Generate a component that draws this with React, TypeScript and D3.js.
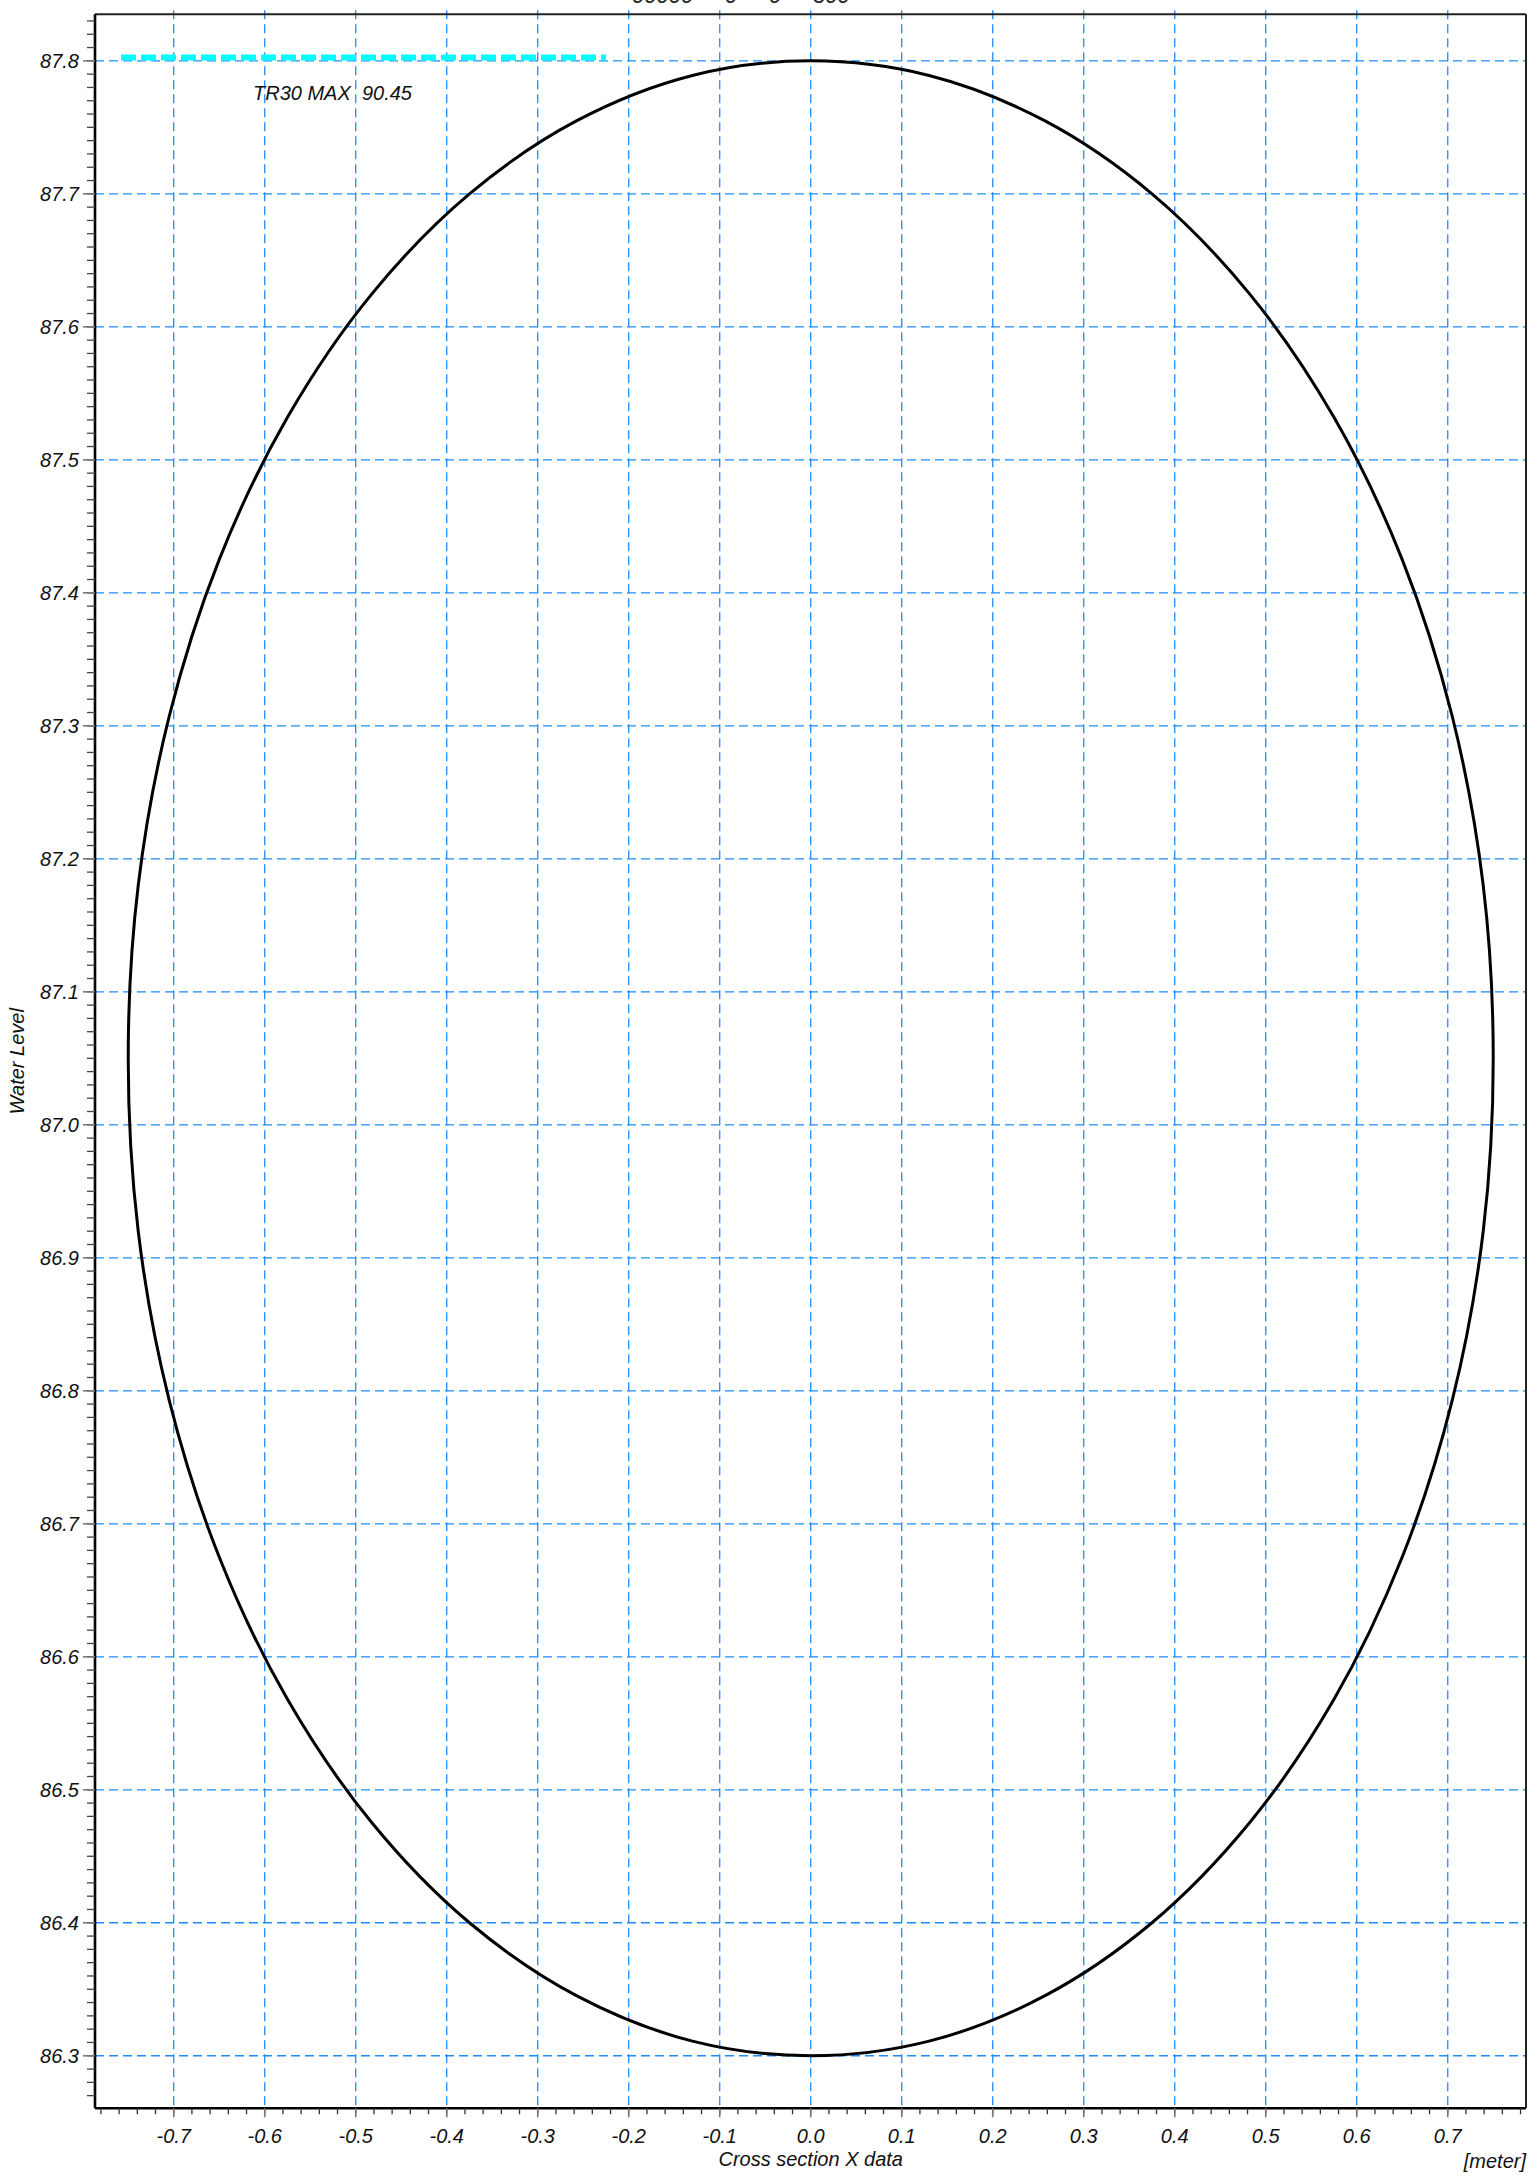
import React, { useEffect } from "react";
import * as d3 from "d3";

// pipe cross-section outline (x in meter, y = water level)
const pipeX = [
  0.75, 0.739, 0.705, 0.65, 0.575, 0.482, 0.375, 0.257, 0.13, 0.0,
  -0.13, -0.257, -0.375, -0.482, -0.575, -0.65, -0.705, -0.739, -0.75,
  -0.739, -0.705, -0.65, -0.575, -0.482, -0.375, -0.257, -0.13, 0.0,
  0.13, 0.257, 0.375, 0.482, 0.575, 0.65, 0.705, 0.739,
];
const pipeY = [
  87.05, 87.18, 87.307, 87.425, 87.532, 87.625, 87.7, 87.755, 87.789, 87.8,
  87.789, 87.755, 87.7, 87.625, 87.532, 87.425, 87.307, 87.18, 87.05,
  86.92, 86.793, 86.675, 86.568, 86.475, 86.4, 86.345, 86.311, 86.3,
  86.311, 86.345, 86.4, 86.475, 86.568, 86.675, 86.793, 86.92,
];

const xTickLabels = ["-0.7", "-0.6", "-0.5", "-0.4", "-0.3", "-0.2", "-0.1", "0.0", "0.1", "0.2", "0.3", "0.4", "0.5", "0.6", "0.7"];
const yTickLabels = ["86.3", "86.4", "86.5", "86.6", "86.7", "86.8", "86.9", "87.0", "87.1", "87.2", "87.3", "87.4", "87.5", "87.6", "87.7", "87.8"];

const legendName = "TR30 MAX  90.45";
const chartTitle = "00000  -  0  -  0  -  300";

const W = 1540;
const H = 2179;
const left = 95, right = 1526, top = 14.3, bottom = 2108.3;
const font = "'Liberation Sans', Arial, Helvetica, sans-serif";
const gridBlue = "#1e8cff";

const App = () => {
  useEffect(() => {
    document.body.style.margin = "0";
    document.body.style.overflow = "hidden";
  }, []);

  const x = d3.scaleLinear().domain([-0.7865, 0.786]).range([left, right]);
  const y = d3.scaleLinear().domain([86.2605, 87.835]).range([bottom, top]);

  const xMajor = xTickLabels.map(Number);
  const yMajor = yTickLabels.map(Number);
  const xMinor = d3.ticks(-0.7865, 0.786, 80);
  const yMinor = d3.ticks(86.2605, 87.835, 160);

  const pts: [number, number][] = pipeX.map((v, i) => [v, pipeY[i]]);
  const line = d3
    .line<[number, number]>()
    .x((d) => x(d[0]))
    .y((d) => y(d[1]))
    .curve(d3.curveCatmullRomClosed.alpha(0.5));

  return (
    <svg width={W} height={H} style={{ position: "absolute", left: 0, top: 0, background: "#fff" }}>
      {/* title, cut off at the top edge like the original */}
      <text x={632} y={2.5} fontFamily={font} fontStyle="italic" fontSize={22} fill="#222" style={{ whiteSpace: "pre" }}>
        {chartTitle}
      </text>

      {/* grid */}
      <g stroke={gridBlue} strokeWidth={1.3} strokeDasharray="9 5" fill="none">
        {xMajor.map((v, i) => (
          <line key={"gx" + i} x1={x(v)} x2={x(v)} y1={top - 4} y2={bottom} />
        ))}
        {yMajor.map((v, i) => (
          <line key={"gy" + i} x1={left} x2={right} y1={y(v)} y2={y(v)} />
        ))}
      </g>

      {/* pipe outline */}
      <path d={line(pts) || ""} fill="none" stroke="#000" strokeWidth={3} />

      {/* frame */}
      <line x1={left} x2={right} y1={top} y2={top} stroke="#222" strokeWidth={2} />
      <line x1={right} x2={right} y1={top} y2={bottom} stroke="#222" strokeWidth={2} />
      <line x1={left} x2={left} y1={top} y2={bottom} stroke="#000" strokeWidth={2.6} />
      <line x1={left} x2={right} y1={bottom} y2={bottom} stroke="#000" strokeWidth={2.6} />

      {/* x ticks */}
      <g>
        {xMinor.map((v, i) => (
          <line key={"xm" + i} x1={x(v)} x2={x(v)} y1={bottom} y2={bottom + 6} stroke="#333" strokeWidth={1.3} />
        ))}
        {xMajor.map((v, i) => (
          <line key={"xM" + i} x1={x(v)} x2={x(v)} y1={bottom} y2={bottom + 9} stroke="#777" strokeWidth={1.6} />
        ))}
        {xTickLabels.map((t, i) => (
          <text key={"xl" + i} x={x(xMajor[i])} y={2143} textAnchor="middle" fontFamily={font} fontStyle="italic" fontSize={20} fill="#111">
            {t}
          </text>
        ))}
      </g>

      {/* y ticks */}
      <g>
        {yMinor.map((v, i) => (
          <line key={"ym" + i} x1={left - 8} x2={left} y1={y(v)} y2={y(v)} stroke="#444" strokeWidth={1.3} />
        ))}
        {yMajor.map((v, i) => (
          <line key={"yM" + i} x1={left - 12} x2={left} y1={y(v)} y2={y(v)} stroke="#777" strokeWidth={1.6} />
        ))}
        {yTickLabels.map((t, i) => (
          <text key={"yl" + i} x={79} y={y(yMajor[i])} dy="0.36em" textAnchor="end" fontFamily={font} fontStyle="italic" fontSize={20} fill="#111">
            {t}
          </text>
        ))}
      </g>

      {/* axis titles */}
      <text x={x(0)} y={2166} textAnchor="middle" fontFamily={font} fontStyle="italic" fontSize={20} fill="#111">
        Cross section X data
      </text>
      <text x={right} y={2168} textAnchor="end" fontFamily={font} fontStyle="italic" fontSize={20} fill="#111">
        [meter]
      </text>
      <text
        transform={`translate(24, ${(top + bottom) / 2}) rotate(-90)`}
        textAnchor="middle"
        fontFamily={font}
        fontStyle="italic"
        fontSize={20}
        fill="#111"
      >
        Water Level
      </text>

      {/* legend */}
      <line x1={121} x2={606} y1={57.5} y2={57.5} stroke="#00ffff" strokeWidth={6} strokeDasharray="15 5" />
      <text x={253} y={100} fontFamily={font} fontStyle="italic" fontSize={20} fill="#111" style={{ whiteSpace: "pre" }}>
        {legendName}
      </text>
    </svg>
  );
};

export default App;
